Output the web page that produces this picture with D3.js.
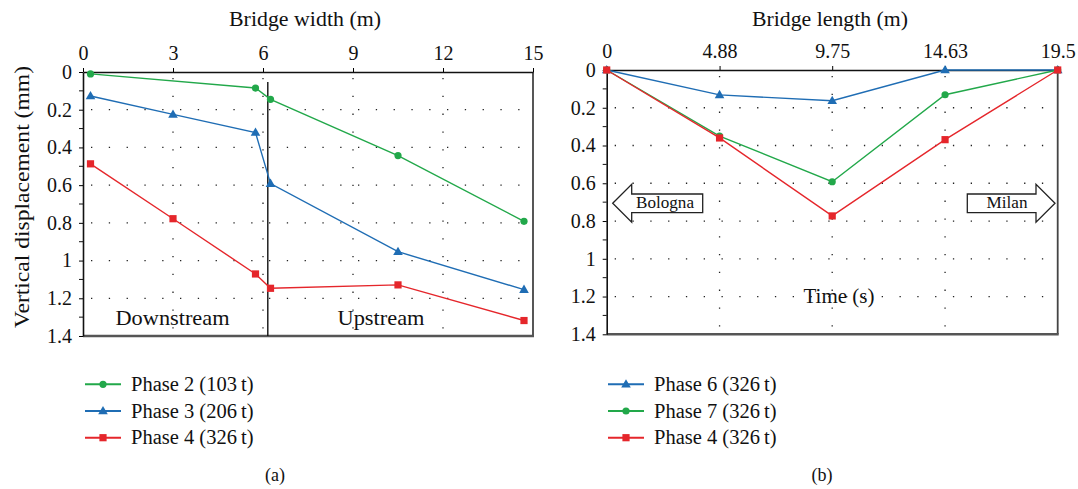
<!DOCTYPE html>
<html><head><meta charset="utf-8">
<script src="https://cdn.jsdelivr.net/npm/d3@7"></script>
<style>
body{margin:0;background:#fff}
svg text{font-family:"Liberation Serif","DejaVu Serif",serif;fill:#111}
</style></head>
<body><svg id="c" width="1078" height="489"></svg>
<script>
// ---- data ----
const widthTicks = [0, 3, 6, 9, 12, 15];
const widthTickLabels = ["0", "3", "6", "9", "12", "15"];
const dispTicks = [0, 0.2, 0.4, 0.6, 0.8, 1, 1.2, 1.4];
const dispTickLabels = ["0", "0.2", "0.4", "0.6", "0.8", "1", "1.2", "1.4"];
const widthPos = [0.25, 3, 5.75, 6.25, 10.5, 14.7];
const phase2W = [[0.25, 0.01], [5.75, 0.085], [6.25, 0.145], [10.5, 0.443], [14.7, 0.792]];
const phase3W = [0.127, 0.225, 0.321, 0.592, 0.953, 1.154];
const phase4W = [0.487, 0.778, 1.071, 1.147, 1.129, 1.318];
const lengthTicks = [0, 4.88, 9.75, 14.63, 19.5];
const lengthTickLabels = ["0", "4.88", "9.75", "14.63", "19.5"];
const phase6L = [0, 0.132, 0.163, 0, 0];
const phase7L = [0, 0.35, 0.592, 0.131, 0];
const phase4L = [0, 0.36, 0.773, 0.369, 0];
const legendA = ["Phase 2 (103\u2009t)", "Phase 3 (206\u2009t)", "Phase 4 (326\u2009t)"];
const legendB = ["Phase 6 (326\u2009t)", "Phase 7 (326\u2009t)", "Phase 4 (326\u2009t)"];

const GREEN = "#22a84a", BLUE = "#1f6db4", RED = "#e5262b";
const svg = d3.select("#c");

function label(g, x, y, size, txt, len) {
  const t = g.append("text").attr("x", x).attr("y", y).attr("text-anchor", "middle")
    .style("font-size", size + "px").text(txt);
  if (len) t.attr("textLength", len).attr("lengthAdjust", "spacingAndGlyphs");
  return t;
}

function panel(opt) {
  const x = d3.scaleLinear().domain(opt.xd).range(opt.xr);
  const y = d3.scaleLinear().domain([0, 1.4]).range(opt.yr);
  const g = svg.append("g");
  // grid
  const grid = g.append("g").attr("stroke", "#222").attr("stroke-width", 1.3)
    .attr("stroke-dasharray", "1.3,16.5");
  grid.selectAll(".h").data(dispTicks.slice(1, -1)).join("line")
    .attr("x1", x.range()[0] + 8).attr("x2", x.range()[1])
    .attr("y1", d => y(d)).attr("y2", d => y(d));
  grid.selectAll(".v").data(opt.gridX).join("line")
    .attr("x1", d => x(d)).attr("x2", d => x(d))
    .attr("y1", y(0) + 6).attr("y2", y(1.4));
  // frame right & bottom
  g.append("line").attr("x1", x.range()[1]).attr("x2", x.range()[1]).attr("y1", y(0)).attr("y2", y(1.4))
    .attr("stroke", "#444").attr("stroke-width", 1.8);
  g.append("line").attr("x1", x.range()[0]).attr("x2", x.range()[1] + 1).attr("y1", y(1.4)).attr("y2", y(1.4))
    .attr("stroke", "#555").attr("stroke-width", 2.6);
  // top axis
  const ax = g.append("g").attr("transform", `translate(0,${y(0)})`)
    .call(d3.axisTop(x).tickValues(opt.xt).tickFormat((d, i) => opt.xl[i]).tickSize(4).tickPadding(opt.tp).tickSizeOuter(0));
  ax.attr("font-family", null).attr("font-size", null);
  ax.select(".domain").attr("stroke", "#111").attr("stroke-width", 1.6);
  ax.selectAll("text").style("font-size", "20px").attr("fill", "#111");
  // left axis
  const ay = g.append("g").attr("transform", `translate(${x.range()[0]},0)`)
    .call(d3.axisLeft(y).tickValues(dispTicks).tickFormat((d, i) => dispTickLabels[i]).tickSize(4).tickPadding(7).tickSizeOuter(0));
  ay.attr("font-family", null).attr("font-size", null);
  ay.select(".domain").attr("stroke", "#111").attr("stroke-width", 1.6);
  ay.selectAll("text").style("font-size", "20px").attr("fill", "#111");
  g.append("g").selectAll("line").data(d3.range(0.1, 1.4, 0.2)).join("line")
    .attr("x1", x.range()[0] - 4).attr("x2", x.range()[0]).attr("y1", d => y(d)).attr("y2", d => y(d))
    .attr("stroke", "#111").attr("stroke-width", 1);
  // title
  label(g, opt.titleX, 26, 21, opt.title, opt.titleLen);
  return {g, x, y};
}

function marker(g, type, color, px, py) {
  if (type === "circle") g.append("circle").attr("cx", px).attr("cy", py).attr("r", 3.6).attr("fill", color);
  else if (type === "square") g.append("rect").attr("x", px - 3.6).attr("y", py - 3.6).attr("width", 7.2).attr("height", 7.2).attr("fill", color);
  else g.append("path").attr("d", d3.symbol(d3.symbolTriangle, 40)()).attr("transform", `translate(${px},${py + 0.5})`).attr("fill", color);
}

function series(p, pts, color, type) {
  const sg = p.g.append("g");
  sg.append("path").datum(pts).attr("fill", "none").attr("stroke", color).attr("stroke-width", 1.4)
    .attr("d", d3.line().x(d => p.x(d[0])).y(d => p.y(d[1])));
  pts.forEach(d => marker(sg, type, color, p.x(d[0]), p.y(d[1])));
}

// ---- Panel (a) ----
const A = panel({xd: [0, 15], xr: [83, 533], yr: [72, 336], xt: widthTicks, xl: widthTickLabels,
  gridX: [3, 6, 9, 12], tp: 8, title: "Bridge width (m)", titleX: 305, titleLen: 152});
A.g.append("line").attr("x1", A.x(6.16)).attr("x2", A.x(6.16)).attr("y1", A.y(0.053)).attr("y2", A.y(1.4))
  .attr("stroke", "#111").attr("stroke-width", 1.4);
series(A, phase2W, GREEN, "circle");
series(A, widthPos.map((w, i) => [w, phase3W[i]]), BLUE, "triangle");
series(A, widthPos.map((w, i) => [w, phase4W[i]]), RED, "square");
label(A.g, 172.5, 325, 21, "Downstream", 114);
label(A.g, 381, 325, 21, "Upstream", 87);
label(svg, 0, 0, 21, "Vertical displacement (mm)", 262).attr("transform", "translate(29,197) rotate(-90)");

// ---- Panel (b) ----
const B = panel({xd: [0, 19.5], xr: [606.7, 1057.7], yr: [70, 334.3], xt: lengthTicks, xl: lengthTickLabels,
  gridX: [4.88, 9.75, 14.63], tp: 7.7, title: "Bridge length (m)", titleX: 830, titleLen: 156});
// arrows
function arrow(g, tipX, baseX, endX, cy) {
  const bh = 9.3, hh = 19;
  const pts = [[tipX, cy], [baseX, cy - hh], [baseX, cy - bh], [endX, cy - bh], [endX, cy + bh], [baseX, cy + bh], [baseX, cy + hh]];
  g.append("path").attr("d", d3.line()(pts) + "Z").attr("fill", "#fff").attr("stroke", "#222").attr("stroke-width", 1.3);
}
arrow(B.g, 612.7, 631.7, 702.7, 203.3);
arrow(B.g, 1055, 1036, 967.3, 203.3);
label(B.g, 665, 208, 16.5, "Bologna", 58);
label(B.g, 1007, 208, 16.5, "Milan", 41);
label(B.g, 839, 303, 21, "Time (s)", 71);
series(B, lengthTicks.map((l, i) => [l, phase6L[i]]), BLUE, "triangle");
series(B, lengthTicks.map((l, i) => [l, phase7L[i]]), GREEN, "circle");
series(B, lengthTicks.map((l, i) => [l, phase4L[i]]), RED, "square");

// ---- legends ----
function legend(x0, labels, colors, types) {
  labels.forEach((t, i) => {
    const yy = 384.3 + i * 26.7;
    const lg = svg.append("g");
    lg.append("line").attr("x1", x0).attr("x2", x0 + 36).attr("y1", yy).attr("y2", yy)
      .attr("stroke", colors[i]).attr("stroke-width", 2);
    marker(lg, types[i], colors[i], x0 + 18, yy);
    lg.append("text").attr("x", x0 + 46).attr("y", yy + 6.5).style("font-size", "20.5px").text(t);
  });
}
legend(85, legendA, [GREEN, BLUE, RED], ["circle", "triangle", "square"]);
legend(608, legendB, [BLUE, GREEN, RED], ["triangle", "circle", "square"]);
label(svg, 275, 481, 18, "(a)");
label(svg, 822, 481, 18, "(b)");
</script></body></html>
